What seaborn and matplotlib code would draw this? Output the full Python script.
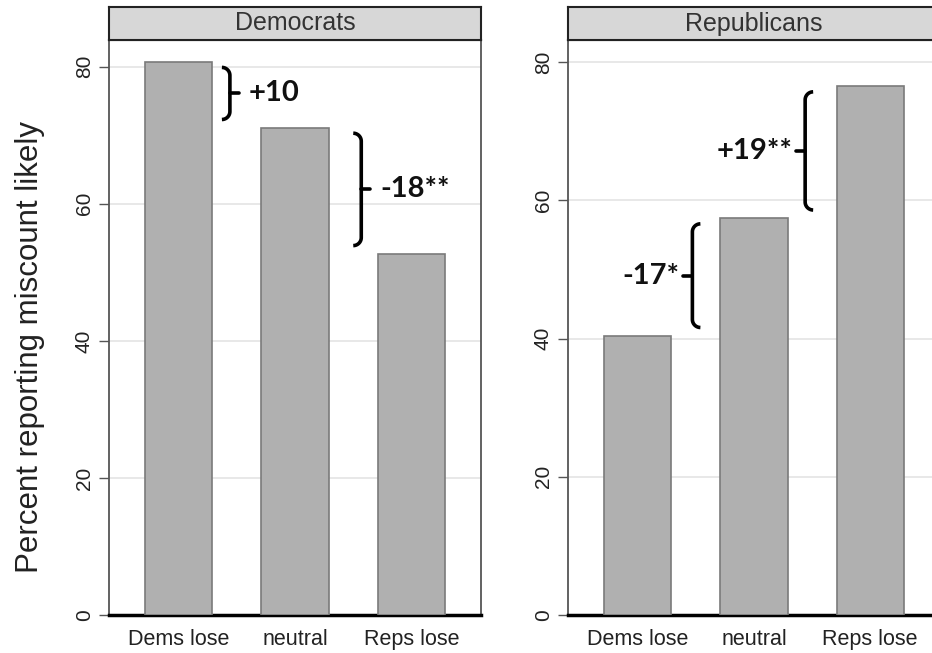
import matplotlib
matplotlib.use("Agg")
import matplotlib.pyplot as plt
import seaborn as sns
import numpy as np
import pandas as pd

# ---- data ----
conditions = ["Dems lose", "neutral", "Reps lose"]
panels = ["Democrats", "Republicans"]
dem_values = [80.7, 71.1, 52.7]
rep_values = [40.4, 57.4, 76.5]
dem_labels = ["+10", "-18**"]
rep_labels = ["-17*", "+19**"]
yticks = [0, 20, 40, 60, 80]
ylabel = "Percent reporting miscount likely"

sns.set_theme(style="white")
plt.rcParams['font.family'] = ['Liberation Sans', 'DejaVu Sans']

fig = plt.figure(figsize=(9.32, 6.53), dpi=100)
W, H = 932, 653

def axes_px(x0, x1, ytop, ybot):
    return [x0 / W, 1 - ybot / H, (x1 - x0) / W, (ybot - ytop) / H]

panel_specs = [
    dict(name=panels[0], values=dem_values, labels=dem_labels,
         rect=axes_px(109, 481, 40, 615), ytop=83.9,
         braces=[(0, 1, 0.44, +1), (1, 2, 1.57, +1)]),
    dict(name=panels[1], values=rep_values, labels=rep_labels,
         rect=axes_px(568, 940, 40, 615), ytop=83.2,
         braces=[(0, 1, 0.47, -1), (1, 2, 1.44, -1)]),
]

bar_color = "#b0b0b0"
edge_color = "#7a7a7a"

for spec in panel_specs:
    ax = fig.add_axes(spec["rect"])
    df = pd.DataFrame({"condition": conditions, "pct": spec["values"]})
    sns.barplot(data=df, x="condition", y="pct", color=bar_color,
                edgecolor=edge_color, linewidth=1.2, width=0.58,
                saturation=1, ax=ax, zorder=3)
    ax.set_xlim(-0.6, 2.6)
    ax.set_ylim(0, spec["ytop"])
    ax.set_yticks(yticks)
    ax.set_yticklabels([str(t) for t in yticks], rotation=90, va="center",
                       fontsize=15, color="#222222")
    ax.tick_params(axis="y", length=7, width=1, color="#555555", pad=4, left=True)
    ax.tick_params(axis="x", length=0, pad=10, labelsize=15.5, labelcolor="#222222")
    ax.set_xlabel("")
    ax.set_ylabel("")
    for t in [20, 40, 60, 80]:
        ax.axhline(t, color="#e4e4e4", lw=1.2, zorder=1)
    for s in ["left", "right"]:
        ax.spines[s].set_color("#555555")
        ax.spines[s].set_linewidth(1.3)
    ax.spines["top"].set_color("black")
    ax.spines["top"].set_linewidth(1.5)
    ax.spines["bottom"].set_color("black")
    ax.spines["bottom"].set_linewidth(2.5)

    # strip
    r = spec["rect"]
    strip_h = 33 / H
    sax = fig.add_axes([r[0], r[1] + r[3], r[2], strip_h])
    sax.set_xticks([]); sax.set_yticks([])
    sax.set_facecolor("#d7d7d7")
    for s in sax.spines.values():
        s.set_color("#222222"); s.set_linewidth(1.5)
    sax.text(0.5, 0.5, spec["name"], ha="center", va="center",
             fontsize=18, color="#333333", transform=sax.transAxes)

    # braces
    vals = spec["values"]
    px_per_x = r[2] * W / 3.2
    px_per_y = r[3] * H / spec["ytop"]
    rad = 8
    rx = rad / px_per_x
    ry = rad / px_per_y
    for (i, j, xb, side), lab in zip(spec["braces"], spec["labels"]):
        hi = max(vals[i], vals[j]) - 0.8
        lo = min(vals[i], vals[j]) + 1.2
        mid = (hi + lo) / 2
        d = -side
        th = np.linspace(0, np.pi / 2, 14)
        top_x = xb + d * rx * (1 - np.sin(th))
        top_y = hi - ry * (1 - np.cos(th))
        bot_x = xb + d * rx * (1 - np.sin(th[::-1]))
        bot_y = lo + ry * (1 - np.cos(th[::-1]))
        xs = np.concatenate([top_x, bot_x])
        ys = np.concatenate([top_y, bot_y])
        ax.plot(xs, ys, color="black", lw=2.6, solid_capstyle="butt",
                solid_joinstyle="round", zorder=5, clip_on=False)
        tick = 9 / px_per_x
        ax.plot([xb, xb + side * tick], [mid, mid], color="black", lw=2.6, zorder=5)
        gap = (10 if side > 0 else 4) / px_per_x
        ax.text(xb + side * (tick + gap), mid, lab, ha="left" if side > 0 else "right",
                va="center", fontsize=21, fontweight="bold", color="#111111",
                family=["Lato", "DejaVu Sans"], zorder=6)

fig.text(30 / W, 1 - 347 / H, ylabel, rotation=90, ha="center", va="center",
         fontsize=22.5, color="#222222")

fig.savefig("out.png", dpi=100, facecolor="white")
